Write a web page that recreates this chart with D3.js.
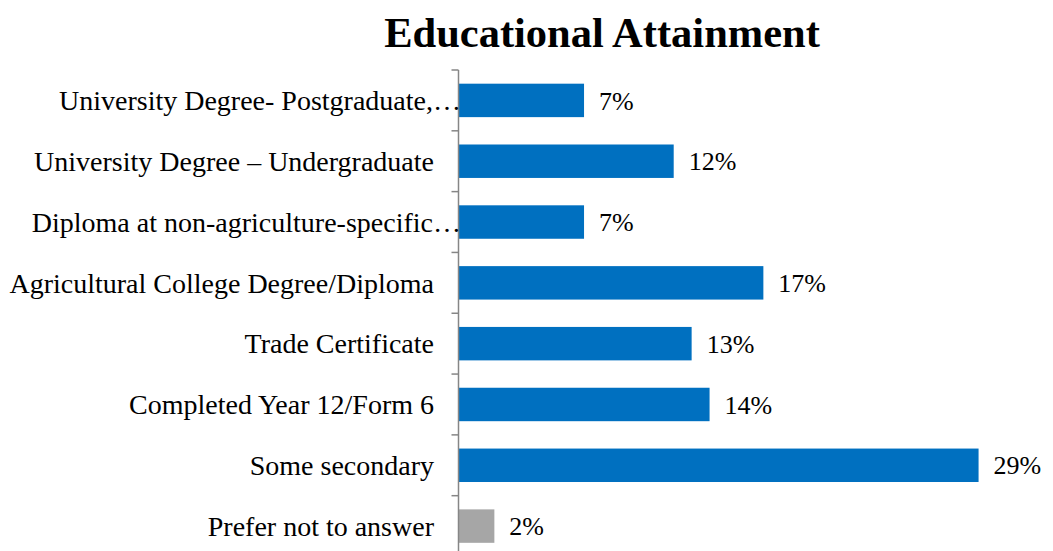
<!DOCTYPE html>
<html>
<head>
<meta charset="utf-8">
<script src="https://cdn.jsdelivr.net/npm/d3@7"></script>
<style>
  html, body { margin: 0; padding: 0; background: #fff; }
  svg { display: block; }
  text { font-family: "Liberation Serif", "Times New Roman", serif; fill: #000; }
</style>
</head>
<body>
<svg id="chart" width="1053" height="551"></svg>
<script>
// Educational attainment of respondents (percent)
const categories = [
  "University Degree- Postgraduate,…",
  "University Degree – Undergraduate",
  "Diploma at non-agriculture-specific…",
  "Agricultural College Degree/Diploma",
  "Trade Certificate",
  "Completed Year 12/Form 6",
  "Some secondary",
  "Prefer not to answer"
];
const values = [7, 12, 7, 17, 13, 14, 29, 2];
const barColors = ["#0070C0", "#0070C0", "#0070C0", "#0070C0", "#0070C0", "#0070C0", "#0070C0", "#A6A6A6"];
const title = "Educational Attainment";

(function draw() {
  const svg = d3.select("#chart");
  const axisX = 458.5;
  const plotTop = 70, plotBottom = 556.5;

  const x = d3.scaleLinear().domain([0, 30]).range([axisX, axisX + 538]);
  const y = d3.scaleBand().domain(categories).range([plotTop, plotBottom])
    .paddingInner(0.45).paddingOuter(0.225);

  // title
  svg.append("text")
    .attr("x", 602).attr("y", 47)
    .attr("text-anchor", "middle")
    .style("font-size", "42.5px").style("font-weight", "bold")
    .text(title);

  // bars
  svg.selectAll("rect.bar").data(values).join("rect")
    .attr("class", "bar")
    .attr("x", x(0))
    .attr("y", (d, i) => y(categories[i]))
    .attr("width", d => x(d) - x(0))
    .attr("height", y.bandwidth())
    .attr("fill", (d, i) => barColors[i]);

  // value labels
  svg.selectAll("text.val").data(values).join("text")
    .attr("class", "val")
    .attr("x", d => x(d) + 15)
    .attr("y", (d, i) => y(categories[i]) + y.bandwidth() / 2)
    .attr("dy", "0.35em")
    .style("font-size", "26px")
    .text(d => d + "%");

  // category axis: line with tick marks at band boundaries
  const step = y.step();
  const boundaries = d3.range(categories.length + 1).map(i => plotTop + i * step);
  const ax = svg.append("g");
  ax.append("line")
    .attr("x1", axisX).attr("x2", axisX)
    .attr("y1", plotTop).attr("y2", plotBottom)
    .attr("stroke", "#868686").attr("stroke-width", 1.5);
  ax.selectAll("line.tick").data(boundaries).join("line")
    .attr("class", "tick")
    .attr("x1", axisX - 7).attr("x2", axisX)
    .attr("y1", d => d).attr("y2", d => d)
    .attr("stroke", "#868686").attr("stroke-width", 1.5);

  // category labels
  svg.selectAll("text.cat").data(categories).join("text")
    .attr("class", "cat")
    .attr("x", d => d.endsWith("…") ? 461 : 434)
    .attr("y", d => y(d) + y.bandwidth() / 2)
    .attr("dy", "0.35em")
    .attr("text-anchor", "end")
    .style("font-size", "28px")
    .text(d => d);
})();
</script>
</body>
</html>
